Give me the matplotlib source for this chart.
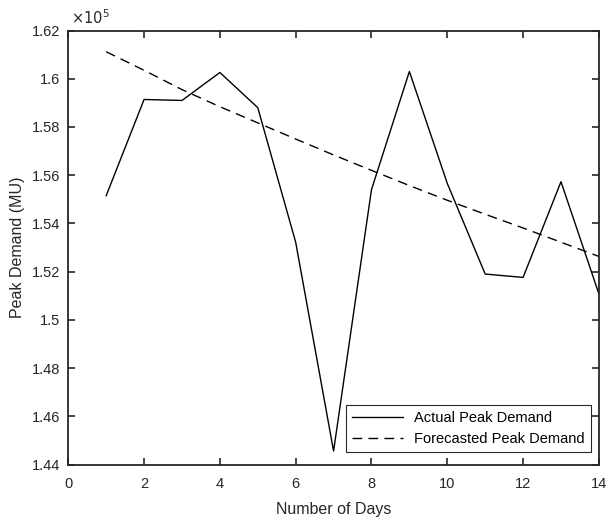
import matplotlib
matplotlib.use('Agg')
import matplotlib.pyplot as plt
from matplotlib.ticker import FuncFormatter

plt.rcParams['font.family'] = ['Liberation Sans', 'DejaVu Sans']

days = [1, 2, 3, 4, 5, 6, 7, 8, 9, 10, 11, 12, 13, 14]
actual = [155150, 159140, 159100, 160260, 158800, 153220, 144560,
          155400, 160300, 155660, 151900, 151760, 155730, 151080]
forecast = [161120, 160350, 159550, 158840, 158170, 157500, 156840,
            156200, 155570, 154960, 154380, 153810, 153220, 152630]

fig = plt.figure(figsize=(6.08, 5.2), dpi=100)
ax = fig.add_axes([0.1123, 0.1067, 0.8727, 0.8346])

ax.plot(days, actual, color='black', lw=1.0, label='Actual Peak Demand')
ax.plot(days, forecast, color='black', lw=1.0, ls=(0, (7, 4.5)), label='Forecasted Peak Demand')

ax.set_xlim(0, 14)
ax.set_ylim(144000, 162000)
ax.set_xticks(range(0, 15, 2))
ax.set_yticks(range(144000, 162001, 2000))
ax.yaxis.set_major_formatter(FuncFormatter(lambda v, p: '%g' % round(v / 1e5, 4)))

ax.tick_params(direction='in', top=True, right=True, length=5, width=1.2,
               labelsize=10.5, colors='#262626')
ax.tick_params(axis='x', pad=9)
ax.tick_params(axis='y', pad=6)
for s in ax.spines.values():
    s.set_linewidth(1.3)
    s.set_color('#262626')

ax.set_xlabel('Number of Days', fontsize=11.5, color='#262626', labelpad=8)
ax.set_ylabel('Peak Demand (MU)', fontsize=11.5, color='#262626', labelpad=5)
ax.text(0.005, 1.008, r'$\times10^5$', transform=ax.transAxes, fontsize=10.5,
        color='#262626', ha='left', va='bottom')

leg = ax.legend(loc='lower right', bbox_to_anchor=(0.985, 0.029), borderaxespad=0,
                fontsize=10.5, handlelength=3.5, fancybox=False, framealpha=1)
leg.get_frame().set_edgecolor('#262626')
leg.get_frame().set_linewidth(0.8)

fig.savefig('out.png', dpi=100)
